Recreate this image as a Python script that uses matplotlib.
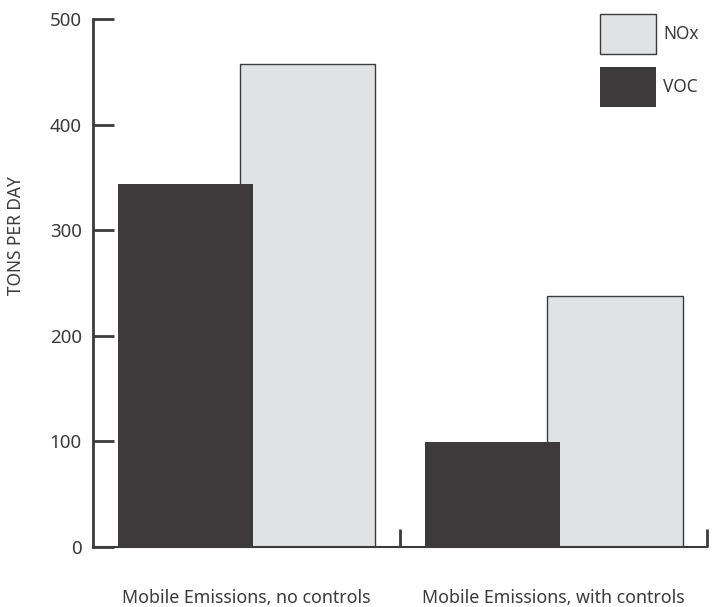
import matplotlib
matplotlib.use("Agg")
import matplotlib.pyplot as plt
import numpy as np

categories = ["Mobile Emissions, no controls", "Mobile Emissions, with controls"]
voc = [344, 99]
nox = [457, 238]
yticks = [0, 100, 200, 300, 400, 500]

DARK = "#3c3a3b"
LIGHT = "#e1e2e4"

plt.rcParams['font.family'] = ['Noto Sans', 'DejaVu Sans']

fig = plt.figure(figsize=(7.23, 6.07), dpi=100)
ax = fig.add_axes([0.1286, 0.0988, 0.8494, 0.8699])

x = np.arange(len(categories))
w = 0.44
# NOx behind, VOC overlapping in front
b_nox = ax.bar(x + 0.2, nox, w, color=LIGHT, edgecolor=DARK, linewidth=1.0, label="NOx", zorder=2)
b_voc = ax.bar(x - 0.2, voc, w, color=DARK, linewidth=0, label="VOC", zorder=3)

ax.set_xlim(-0.5, 1.5)
ax.set_ylim(0, 500)

for s in ["top", "right"]:
    ax.spines[s].set_visible(False)
for s in ["left", "bottom"]:
    ax.spines[s].set_color(DARK)
    ax.spines[s].set_linewidth(2)
ax.spines["bottom"].set_linewidth(1.5)

ax.set_yticks(yticks)
ax.tick_params(axis="y", direction="in", length=15, width=2, color=DARK,
               labelsize=13.5, labelcolor=DARK, pad=8)
ax.set_xticks([0.5, 1.5])
ax.tick_params(axis="x", direction="in", length=13, width=2, color=DARK,
               labelbottom=False)
for xi, name in zip(x, categories):
    ax.text(xi, -0.08, name, transform=ax.get_xaxis_transform(),
            ha="center", va="top", fontsize=12.8, color=DARK)

ax.set_ylabel("TONS PER DAY", fontsize=12.5, color=DARK)
ax.yaxis.set_label_coords(-0.11, 0.59)

leg = ax.legend(handles=[b_nox, b_voc], loc="upper left",
                bbox_to_anchor=(0.80, 1.039), frameon=False,
                handlelength=3.24, handleheight=3.13, labelspacing=0.8,
                handletextpad=0.4, fontsize=12.5)
for t in leg.get_texts():
    t.set_color(DARK)

fig.savefig("out.png", dpi=100)
